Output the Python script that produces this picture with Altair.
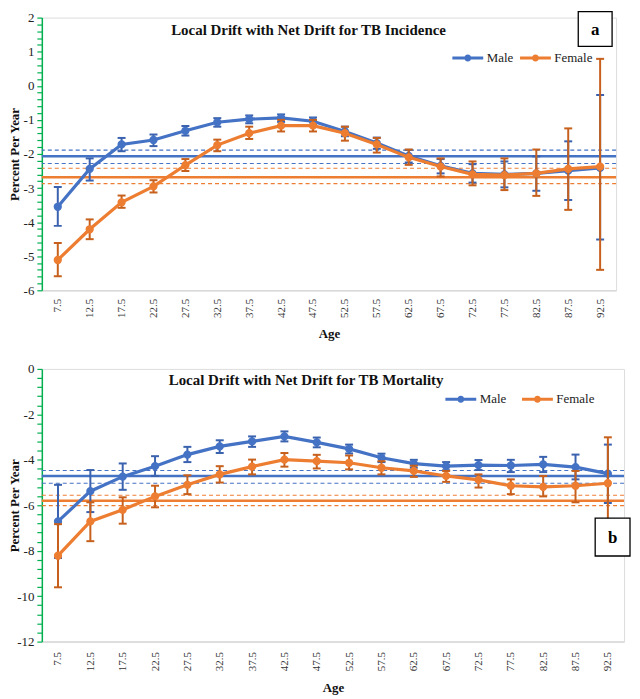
import altair as alt
import pandas as pd

FONT = "Liberation Serif, Times New Roman, serif"

ages = ["7.5", "12.5", "17.5", "22.5", "27.5", "32.5", "37.5", "42.5", "47.5",
        "52.5", "57.5", "62.5", "67.5", "72.5", "77.5", "82.5", "87.5", "92.5"]
sexes = ["Male", "Female"]
line_colors = ["#4472C4", "#ED7D31"]
bar_colors = ["#3A62AE", "#C6601C"]

# ---- TB incidence: local drift (estimate, lower, upper) ----
inc_male = [-3.55, -2.44, -1.72, -1.59, -1.32, -1.07, -0.98, -0.94, -1.04,
            -1.34, -1.68, -2.06, -2.35, -2.57, -2.60, -2.57, -2.49, -2.41]
inc_male_lo = [-4.11, -2.78, -1.92, -1.77, -1.46, -1.20, -1.10, -1.06, -1.15,
               -1.48, -1.85, -2.25, -2.57, -2.84, -2.98, -3.08, -3.35, -4.51]
inc_male_hi = [-2.97, -2.13, -1.53, -1.43, -1.18, -0.95, -0.87, -0.84, -0.93,
               -1.20, -1.52, -1.88, -2.15, -2.30, -2.22, -2.07, -1.63, -0.27]
inc_fem = [-5.11, -4.21, -3.42, -2.95, -2.33, -1.74, -1.39, -1.17, -1.17,
           -1.39, -1.72, -2.10, -2.37, -2.60, -2.62, -2.57, -2.44, -2.37]
inc_fem_lo = [-5.59, -4.50, -3.58, -3.13, -2.50, -1.92, -1.56, -1.34, -1.34,
              -1.61, -1.96, -2.32, -2.66, -2.92, -3.06, -3.23, -3.64, -5.40]
inc_fem_hi = [-4.61, -3.92, -3.22, -2.77, -2.15, -1.58, -1.20, -1.00, -1.00,
              -1.20, -1.53, -1.87, -2.13, -2.22, -2.13, -1.87, -1.25, 0.79]
# net drift (Male, Female)
inc_net = [-2.07, -2.68]
inc_net_lo = [-2.28, -2.87]
inc_net_hi = [-1.89, -2.42]

# ---- TB mortality ----
mort_male = [-6.71, -5.38, -4.74, -4.28, -3.77, -3.41, -3.19, -2.97, -3.23,
             -3.52, -3.91, -4.17, -4.28, -4.23, -4.25, -4.20, -4.32, -4.61]
mort_male_lo = [-8.32, -6.30, -5.32, -4.71, -4.10, -3.70, -3.43, -3.19, -3.45,
                -3.72, -4.10, -4.35, -4.46, -4.45, -4.54, -4.54, -4.86, -5.90]
mort_male_hi = [-5.10, -4.45, -4.16, -3.84, -3.43, -3.14, -2.97, -2.75, -3.02,
                -3.33, -3.73, -4.00, -4.10, -4.01, -4.00, -3.87, -3.77, -3.33]
mort_fem = [-8.22, -6.71, -6.20, -5.61, -5.10, -4.64, -4.30, -3.99, -4.06,
            -4.13, -4.35, -4.49, -4.71, -4.88, -5.14, -5.19, -5.14, -5.03]
mort_fem_lo = [-9.61, -7.58, -6.81, -6.09, -5.51, -5.00, -4.64, -4.30, -4.38,
               -4.42, -4.64, -4.75, -4.97, -5.22, -5.51, -5.61, -5.87, -7.03]
mort_fem_hi = [-6.83, -5.87, -5.65, -5.14, -4.68, -4.28, -3.99, -3.70, -3.78,
               -3.81, -4.06, -4.26, -4.49, -4.64, -4.86, -4.71, -4.49, -3.01]
mort_net = [-4.71, -5.80]
mort_net_lo = [-5.03, -6.02]
mort_net_hi = [-4.47, -5.56]

LEG_PATH = ("M-1,0L1,0M-0.13,0A0.13,0.13,0,1,1,0.13,0"
            "A0.13,0.13,0,1,1,-0.13,0Z")


def panel(series, net, ydom, step, label_step, w, h, title, title_xy,
          tag, box, leg_x, leg_y, col_pad, lab_pad, ttl_pad):
    m, mlo, mhi, f, flo, fhi = series
    rows = []
    for sex, v, lo, hi in [("Male", m, mlo, mhi), ("Female", f, flo, fhi)]:
        for a, vv, ll, hh in zip(ages, v, lo, hi):
            rows.append(dict(age=a, sex=sex, val=vv, lo=ll, hi=hh))
    df = pd.DataFrame(rows)
    net_df = pd.DataFrame(dict(sex=sexes, est=net[0], lo=net[1], hi=net[2]))

    n = int(round((ydom[1] - ydom[0]) / step))
    ticks = [round(ydom[0] + i * step, 3) for i in range(n + 1)]
    yscale = alt.Scale(domain=ydom, nice=False, zero=False)
    yaxis = alt.Axis(
        title="Percent Per Year", values=ticks, grid=False,
        labelExpr=(f"abs(datum.value/{label_step} - round(datum.value/{label_step})) < 0.001"
                   " ? '' + round(datum.value) : ''"),
        domainColor="#00B050", domainWidth=1.5, tickColor="#00B050",
        tickWidth=1.2, tickSize=5, labelFont=FONT, labelFontSize=13,
        labelColor="#222222", labelPadding=3, titleFont=FONT,
        titleFontSize=13, titleFontWeight="bold", titleColor="#111111",
        titleX=-27.5, titleY=h / 2, titleBaseline="middle", titleAlign="center",
        titleAngle=270)
    xaxis = alt.Axis(
        title="Age", labelAngle=-90, ticks=False, grid=False,
        domainColor="#D9D9D9", domainWidth=1.5, labelFont=FONT,
        labelFontSize=11, labelColor="#333333", labelPadding=lab_pad,
        titleFont=FONT, titleFontSize=13, titleFontWeight="bold",
        titleColor="#111111", titlePadding=ttl_pad)
    xenc = alt.X("age:N", sort=ages, axis=xaxis,
                 scale=alt.Scale(type="point", domain=ages, padding=0.5))

    def Y(field):
        return alt.Y(f"{field}:Q", scale=yscale, axis=yaxis)

    leg = alt.Legend(
        title=None, orient="none", legendX=leg_x, legendY=leg_y,
        direction="horizontal", symbolType=LEG_PATH, symbolSize=961,
        symbolStrokeWidth=3, labelFont=FONT, labelFontSize=13,
        labelColor="#222222", labelOffset=2, columnPadding=col_pad, padding=0)
    fill_enc = alt.Fill("sex:N", scale=alt.Scale(domain=sexes, range=line_colors), legend=leg)
    stroke_enc = alt.Stroke("sex:N", scale=alt.Scale(domain=sexes, range=line_colors), legend=leg)

    layers = []
    nb = alt.Chart(net_df)
    for sex, col in zip(sexes, line_colors):
        s = nb.transform_filter(alt.datum.sex == sex)
        layers.append(s.mark_rule(color=col, strokeWidth=2.5).encode(y=Y("est")))
        layers.append(s.mark_rule(color=col, strokeWidth=1.2, strokeDash=[4, 3]).encode(y=Y("lo")))
        layers.append(s.mark_rule(color=col, strokeWidth=1.2, strokeDash=[4, 3]).encode(y=Y("hi")))

    base = alt.Chart(df).encode(x=xenc)
    for sex, lc, bc in zip(sexes, line_colors, bar_colors):
        s = base.transform_filter(alt.datum.sex == sex)
        layers.append(s.mark_rule(color=bc, strokeWidth=2).encode(y=Y("lo"), y2="hi:Q"))
        layers.append(s.mark_tick(color=bc, size=8, thickness=2, opacity=1).encode(y=Y("lo")))
        layers.append(s.mark_tick(color=bc, size=8, thickness=2, opacity=1).encode(y=Y("hi")))
        layers.append(s.mark_line(color=lc, strokeWidth=3.2).encode(y=Y("val")))
        layers.append(s.mark_point(filled=True, size=28, strokeWidth=3, opacity=1)
                      .encode(y=Y("val"), fill=fill_enc, stroke=stroke_enc))

    tdf = alt.Chart(pd.DataFrame({"t": [tag], "title": [title]}))
    layers.append(tdf.mark_text(font=FONT, fontSize=15, fontWeight="bold", color="#111111",
                                align="center", baseline="middle").encode(
        text="title:N", x=alt.value(title_xy[0]), y=alt.value(title_xy[1])))
    layers.append(tdf.mark_rect(fill="white", stroke="black", strokeWidth=1.3).encode(
        x=alt.value(box[0]), x2=alt.value(box[1]), y=alt.value(box[2]), y2=alt.value(box[3])))
    layers.append(tdf.mark_text(font=FONT, fontSize=17, fontWeight="bold", color="black",
                                align="center", baseline="middle").encode(
        text="t:N", x=alt.value((box[0] + box[1]) / 2), y=alt.value((box[2] + box[3]) / 2 + 1)))

    return alt.layer(*layers).properties(width=w, height=h)


top = panel([inc_male, inc_male_lo, inc_male_hi, inc_fem, inc_fem_lo, inc_fem_hi],
            [inc_net, inc_net_lo, inc_net_hi], [-6, 2], 0.2, 1, 577, 274,
            "Local Drift with Net Drift for TB Incidence", [268, 12], "a",
            [539, 573, -6, 29], 411, 23, 0, 8, 10)
bottom = panel([mort_male, mort_male_lo, mort_male_hi, mort_fem, mort_fem_lo, mort_fem_hi],
               [mort_net, mort_net_lo, mort_net_hi], [-12, 0], 0.4, 2, 585, 274,
               "Local Drift with Net Drift for TB Mortality", [265.5, 11], "b",
               [556, 591, 150, 188], 404, 13, 9, 10, 11)

chart = alt.vconcat(top, bottom, spacing=21).resolve_scale(
    x="independent", y="independent", fill="independent", stroke="independent"
).properties(
    padding=0
).configure_view(stroke=None).configure(background="white")

chart.save("out.html", embed_options={"renderer": "svg", "actions": False})
